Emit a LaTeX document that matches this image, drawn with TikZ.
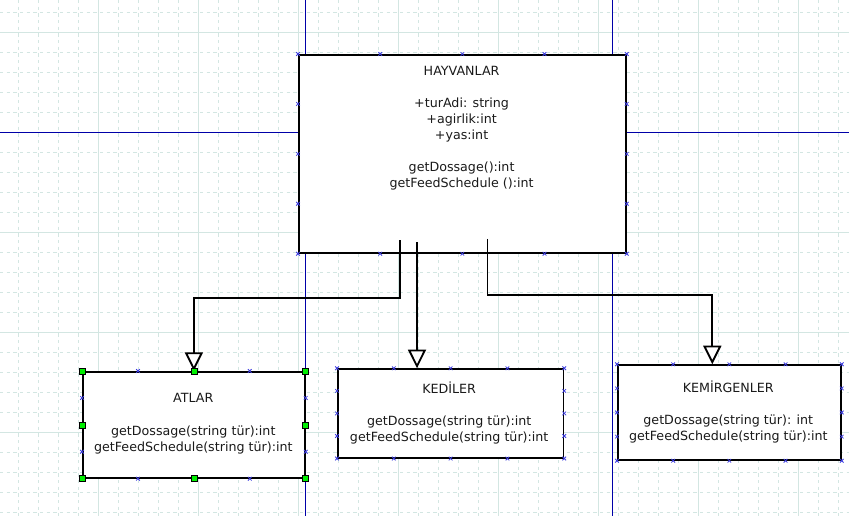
\documentclass[tikz,border=0pt]{standalone}
\usepackage{fontspec}
\setmainfont{DejaVu Sans}
\usetikzlibrary{arrows.meta,calc}
\definecolor{gridc}{HTML}{D3E6E2}
\definecolor{pageblue}{HTML}{0000A8}
\definecolor{markblue}{HTML}{3C3CE0}
\definecolor{handlegreen}{HTML}{00EE00}
\definecolor{txt}{HTML}{1A1A1A}
\begin{document}
\begin{tikzpicture}[x=0.75pt,y=-0.75pt,
  griddash/.style={draw=gridc, line width=0.75pt, dash pattern=on 2.5pt off 2.5pt},
  gridsolid/.style={draw=gridc, line width=0.8pt},
  pageline/.style={draw=pageblue, line width=0.8pt},
  umlbox/.style={draw=black, line width=1.3pt, fill=white, inner sep=0pt, anchor=north west},
  umltext/.style={inner sep=0pt, align=center, text=txt, font=\fontsize{9.5}{12}\selectfont},
  conn/.style={draw=black, line width=1.4pt, -{Triangle[length=14pt, width=13.5pt, fill=white]}},
  cpmark/.style={draw=markblue, line width=0.6pt},
  handle/.style={draw=black, line width=0.5pt, fill=handlegreen, minimum size=4.5pt, inner sep=0pt}]
% background
\path[fill=white] (0,0) rectangle (849,516);
\useasboundingbox (0,0) rectangle (849,516);
% grid
\foreach \x in {18.5,38.5,...,848.5} \draw[griddash] (\x,0) -- (\x,516);
\foreach \y in {12.5,32.5,...,512.5} \draw[griddash] (0,\y) -- (849,\y);
\foreach \x in {98.5,198.5,...,798.5} \draw[gridsolid] (\x,0) -- (\x,516);
\foreach \y in {32.5,232.5,332.5,432.5} \draw[gridsolid] (0,\y) -- (849,\y);
% page break lines
\draw[pageline] (305.5,0) -- (305.5,516);
\draw[pageline] (612.3,0) -- (612.3,516);
\draw[pageline] (0,132.3) -- (849,132.3);
% boxes
\node[umlbox, minimum width=327*0.75pt, minimum height=198*0.75pt] (hay) at (298,54) {};
\node[umlbox, minimum width=222*0.75pt, minimum height=106*0.75pt] (atlar) at (82,371) {};
\node[umlbox, minimum width=225.5*0.75pt, minimum height=88.5*0.75pt] (kedi) at (337,368.3) {};
\node[umlbox, minimum width=223*0.75pt, minimum height=94.7*0.75pt] (kem) at (617,364.3) {};
% texts
\node[umltext] (hayt) at (461.6,128.5) {HAYVANLAR\\[12pt]+turAdi: string\\+agirlik:int\\+yas:int\\[12pt]getDossage():int\\getFeedSchedule ():int};
\node[umltext] (atlart) at (193.3,423.7) {ATLAR\\[12pt]getDossage(string tür):int\\getFeedSchedule(string tür):int};
\node[umltext] (kedit) at (449.2,412.7) {KEDİLER\\[12pt]getDossage(string tür):int\\getFeedSchedule(string tür):int};
\node[umltext] (kemt) at (728.3,411.9) {KEMİRGENLER\\[12pt]getDossage(string tür): int\\getFeedSchedule(string tür):int};
% connectors
\coordinate (s1) at (400,240.5);
\coordinate (s2) at (417,242.5);
\coordinate (s3) at (487.5,239);
\coordinate (t3) at (712.3,364);
\draw[conn] (s1) -- ++(0,57.8) -| (atlar.north);
\draw[conn] (s2) -- (s2 |- kedi.north);
\draw[conn] (s3) -- ++(0,56) -| (t3 |- kem.north);
% connection point marks
\foreach \b in {hay,atlar,kedi,kem}{
  \foreach \f in {0,0.25,0.5,0.75,1}{
    \draw[cpmark] ($(\b.north west)!\f!(\b.north east)$) +(-1.8,-1.8) -- +(1.8,1.8) +(-1.8,1.8) -- +(1.8,-1.8);
    \draw[cpmark] ($(\b.south west)!\f!(\b.south east)$) +(-1.8,-1.8) -- +(1.8,1.8) +(-1.8,1.8) -- +(1.8,-1.8);
  }
  \foreach \f in {0.25,0.5,0.75}{
    \draw[cpmark] ($(\b.north west)!\f!(\b.south west)$) +(-1.8,-1.8) -- +(1.8,1.8) +(-1.8,1.8) -- +(1.8,-1.8);
    \draw[cpmark] ($(\b.north east)!\f!(\b.south east)$) +(-1.8,-1.8) -- +(1.8,1.8) +(-1.8,1.8) -- +(1.8,-1.8);
  }
}
% selection handles on ATLAR
\foreach \a [count=\i] in {north west,north,north east,east,south east,south,south west,west}
  \node[handle] (h\i) at (atlar.\a) {};
\end{tikzpicture}
\end{document}
